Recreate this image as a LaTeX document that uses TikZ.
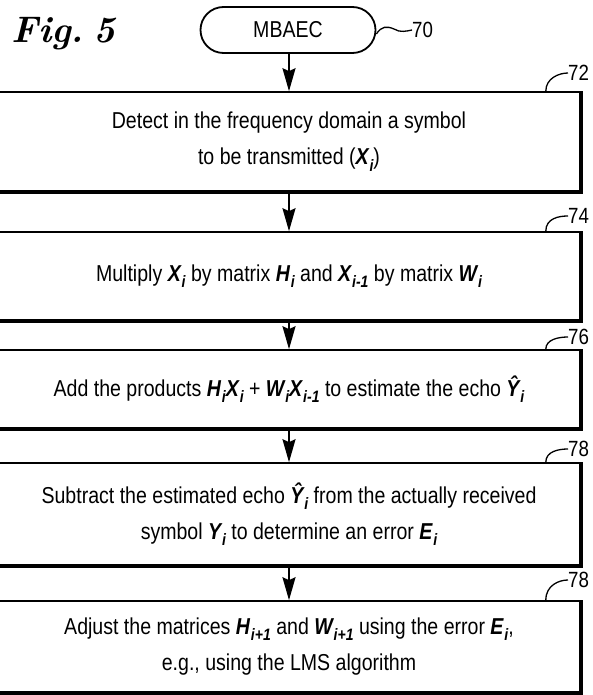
\documentclass[tikz,border=0pt]{standalone}
\usepackage{fontspec}
\setmainfont{Liberation Sans}[FakeStretch=0.85]
\newfontfamily\figfont{Latin Modern Roman}
\usetikzlibrary{arrows.meta,shapes.misc}
\newcommand\bv[2]{{\bfseries\itshape #1\kern0.04em\raisebox{-0.28em}{\fontsize{16.5}{16.5}\selectfont #2}}}
\begin{document}
\begin{tikzpicture}[x=1pt,y=-1pt,
  txt/.style={font=\fontsize{23}{36}\selectfont},
  stepbox/.style={txt, draw, line width=1.6pt, minimum width=582pt, inner sep=0pt, align=center},
  thick edge/.style={line width=3.6pt},
  flow/.style={line width=2.2pt, -{Stealth[length=23pt,width=13pt,inset=3pt]}},
  lbl/.style={font=\fontsize{22}{24}\selectfont, anchor=west, inner sep=0pt},
  leader/.style={line width=1.3pt}]
\useasboundingbox (0,0) rectangle (592,695);

\node[anchor=base west, inner sep=0pt, font={\figfont\fontsize{37}{40}\selectfont\bfseries\itshape}] (fig) at (11,43) {Fig.\hspace{9pt}5};

\node[txt, draw, rounded rectangle, line width=1.8pt, minimum width=175pt, minimum height=46pt, inner sep=0pt] (t) at (288,30) {MBAEC};

\node[stepbox, minimum height=99pt] (b1) at (289,141.5) {Detect in the frequency domain a symbol\\to be transmitted (\bv{X}{i})};
\node[stepbox, minimum height=88pt] (b2) at (289,276) {Multiply \bv{X}{i} by matrix \bv{H}{i} and \bv{X}{i-1} by matrix \bv{W}{i}};
\node[stepbox, minimum height=78pt] (b3) at (289,389) {Add the products \bv{H}{i}\bv{X}{i} + \bv{W}{i}\bv{X}{i-1} to estimate the echo \bv{\^{Y}}{i}};
\node[stepbox, minimum height=102pt] (b4) at (289,514) {Subtract the estimated echo \bv{\^{Y}}{i} from the actually received\\symbol \bv{Y}{i} to determine an error \bv{E}{i}};
\node[stepbox, minimum height=91pt] (b5) at (289,646.5) {Adjust the matrices \bv{H}{i+1} and \bv{W}{i+1} using the error \bv{E}{i},\\e.g., using the LMS algorithm};

\foreach \b in {b1,b2,b3,b4,b5}{
  \draw[thick edge] (\b.north east) -- (\b.south east) -- (\b.south west);
}

\draw[flow] (t.south) -- (t.south -| b1.north) -- (b1.north);
\draw[flow] (b1.south) -- (b2.north);
\draw[flow] (b2.south) -- (b3.north);
\draw[flow] (b3.south) -- (b4.north);
\draw[flow] (b4.south) -- (b5.north);

% reference labels
\node[lbl] (l70) at (412,30) {70};
\coordinate (m70) at (394,29);
\draw[leader] ([yshift=-4pt]t.east) .. controls +(5,-8) and +(-7,-3) .. (m70) .. controls +(6,4) and +(-5,1) .. (l70.west);

\node[lbl] (l72) at (568,73) {72};
\node[lbl] (l74) at (568,216) {74};
\node[lbl] (l76) at (568,337) {76};
\node[lbl] (l78a) at (568,449) {78};
\node[lbl] (l78b) at (568,580) {78};
\draw[leader] ([xshift=-35pt]b1.north east) .. controls +(0,-13) and +(-9,0) .. (l72.west);
\draw[leader] ([xshift=-35pt]b2.north east) .. controls +(0,-13) and +(-9,0) .. (l74.west);
\draw[leader] ([xshift=-35pt]b3.north east) .. controls +(0,-10) and +(-9,0) .. (l76.west);
\draw[leader] ([xshift=-35pt]b4.north east) .. controls +(0,-11) and +(-9,0) .. (l78a.west);
\draw[leader] ([xshift=-35pt]b5.north east) .. controls +(0,-15) and +(-9,0) .. (l78b.west);
\end{tikzpicture}
\end{document}
